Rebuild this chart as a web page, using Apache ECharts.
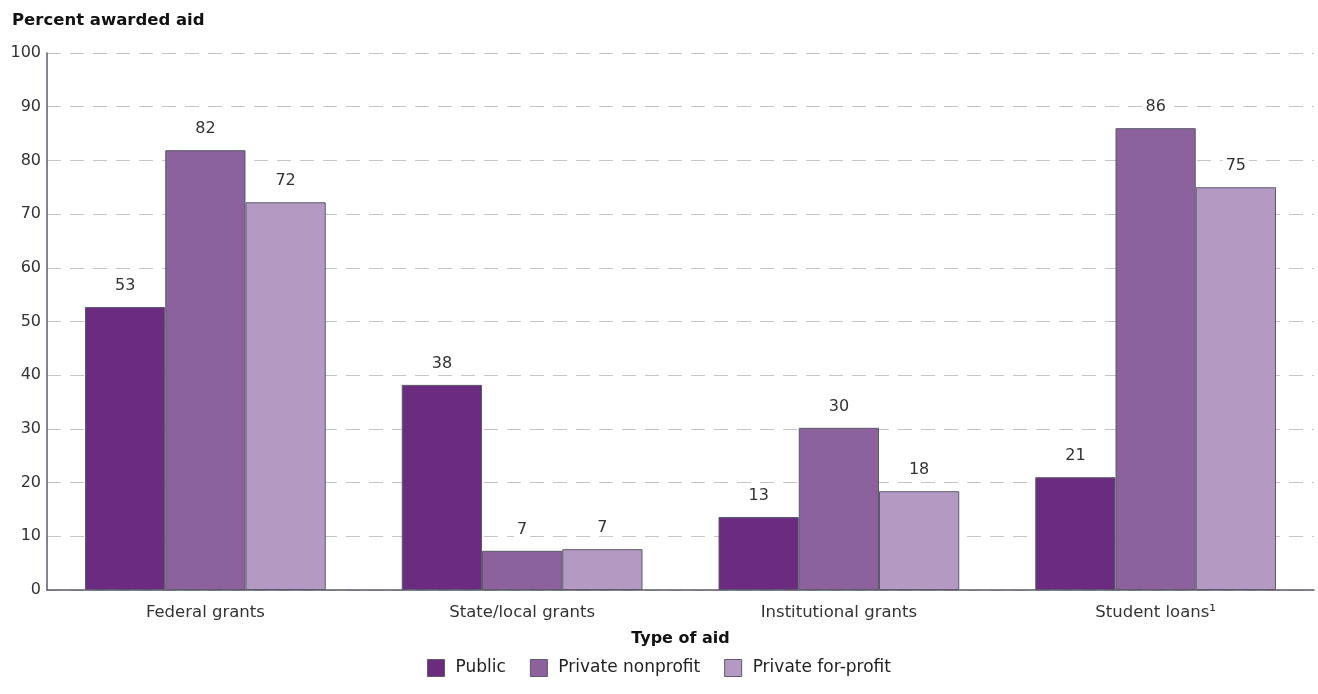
<!DOCTYPE html>
<html>
<head>
<meta charset="utf-8">
<script src="https://cdn.jsdelivr.net/npm/echarts@6/dist/echarts.min.js"></script>
<style>html,body{margin:0;padding:0;background:#fff}#c{width:1318px;height:694px}</style>
</head>
<body>
<div id="c"></div>
<script>
const categories = ['Federal grants', 'State/local grants', 'Institutional grants', 'Student loans\u00B9'];
const seriesNames = ['Public', 'Private nonprofit', 'Private for-profit'];
const publicVals = [52.7, 38.2, 13.6, 21.0];
const nonprofitVals = [81.9, 7.3, 30.2, 86.0];
const forprofitVals = [72.2, 7.6, 18.4, 75.0];
const publicLabels = [53, 38, 13, 21];
const nonprofitLabels = [82, 7, 30, 86];
const forprofitLabels = [72, 7, 18, 75];
const yTicks = [0, 10, 20, 30, 40, 50, 60, 70, 80, 90, 100];
const colors = ['#6b2c80', '#8b629c', '#b49ac2'];

const FONT = '"DejaVu Sans", "Noto Sans", sans-serif';
const chart = echarts.init(document.getElementById('c'), null, {renderer: 'canvas'});

function mk(name, data, labels, color) {
  return {
    name: name, type: 'bar', data: data,
    barGap: '0%', barCategoryGap: '24%',
    itemStyle: {color: color, borderColor: '#5b5b6b', borderWidth: 1},
    label: {
      show: true, position: 'top', distance: 13,
      formatter: p => String(labels[p.dataIndex]),
      fontFamily: FONT, fontSize: 16, color: '#333',
      backgroundColor: '#fff', padding: [0, 3]
    },
    emphasis: {disabled: true}
  };
}

chart.setOption({
  animation: false,
  color: colors,
  title: {
    text: 'Percent awarded aid', left: 7, top: 7,
    textStyle: {fontFamily: FONT, fontSize: 16.5, fontWeight: 'bold', color: '#111'}
  },
  grid: {left: 47, right: 4, top: 53, bottom: 104, containLabel: false},
  legend: {
    data: seriesNames, top: 654, left: 'center',
    itemWidth: 17, itemHeight: 17, itemGap: 24,
    icon: 'rect',
    itemStyle: {borderColor: '#5b5b6b', borderWidth: 1},
    textStyle: {fontFamily: FONT, fontSize: 17, color: '#222', padding: [0, 0, 0, 6]}
  },
  xAxis: {
    type: 'category', data: categories,
    name: 'Type of aid', nameLocation: 'middle', nameGap: 41,
    nameTextStyle: {fontFamily: FONT, fontSize: 16, fontWeight: 'bold', color: '#111'},
    axisLine: {lineStyle: {color: '#5b5b6b', width: 1.5}},
    axisTick: {show: false},
    axisLabel: {fontFamily: FONT, fontSize: 16.5, color: '#333', margin: 14}
  },
  yAxis: {
    type: 'value', min: yTicks[0], max: yTicks[yTicks.length - 1], interval: 10,
    axisLine: {show: true, lineStyle: {color: '#5b5b6b', width: 1.5}},
    axisTick: {show: false},
    axisLabel: {fontFamily: FONT, fontSize: 16, color: '#333', margin: 6},
    splitLine: {lineStyle: {color: '#c4c4cc', type: [14, 9], width: 1}}
  },
  series: [
    mk(seriesNames[0], publicVals, publicLabels, colors[0]),
    mk(seriesNames[1], nonprofitVals, nonprofitLabels, colors[1]),
    mk(seriesNames[2], forprofitVals, forprofitLabels, colors[2])
  ]
});
</script>
</body>
</html>
